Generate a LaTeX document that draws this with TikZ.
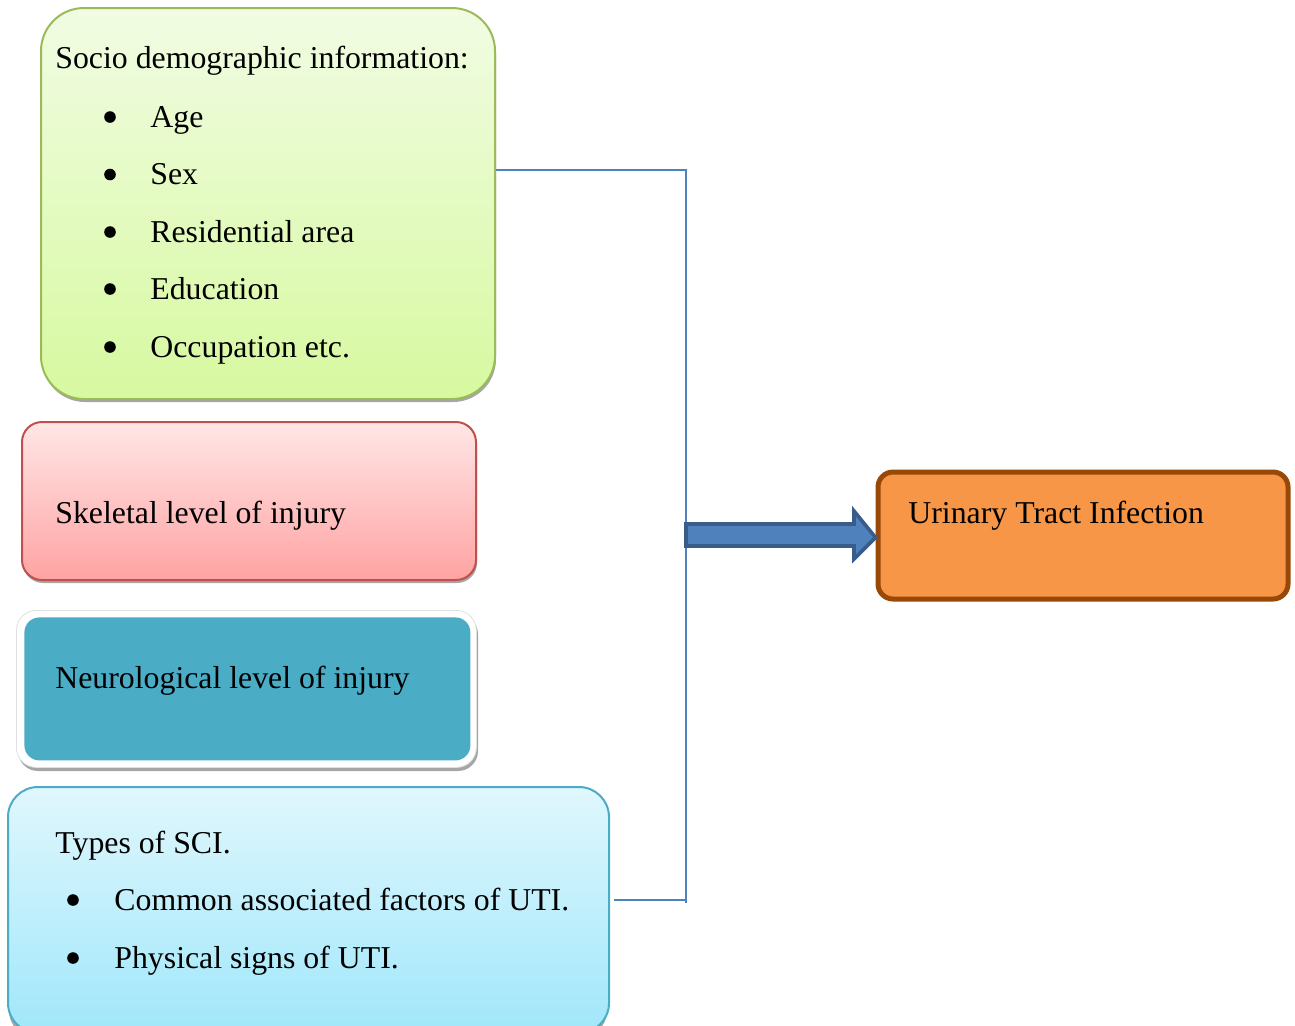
\documentclass[tikz,border=0pt]{standalone}
\usepackage{fontspec}
\setmainfont{Liberation Serif}
\usetikzlibrary{calc}
\definecolor{gborder}{HTML}{9BBB59}
\definecolor{gtop}{HTML}{F1FCE3}
\definecolor{gbot}{HTML}{D7F9A0}
\definecolor{rborder}{HTML}{C0504D}
\definecolor{rtop}{HTML}{FFE6E6}
\definecolor{rbot}{HTML}{FFA3A3}
\definecolor{tealc}{HTML}{4BACC6}
\definecolor{btop}{HTML}{E0F7FD}
\definecolor{bbot}{HTML}{A0E7FA}
\definecolor{bborder}{HTML}{4BACC6}
\definecolor{ofill}{HTML}{F79646}
\definecolor{oborder}{HTML}{984807}
\definecolor{connc}{HTML}{4F81BD}
\definecolor{arrb}{HTML}{385D8A}
\definecolor{shadowc}{HTML}{A6A6A6}
\begin{document}
\begin{tikzpicture}[x=0.5pt,y=-0.5pt,
  box/.style={rectangle, inner sep=0pt, anchor=north west},
  lbl/.style={anchor=base west, inner sep=0pt, font=\fontsize{15.9}{19}\selectfont},
  bul/.style={circle, fill=black, inner sep=0pt, minimum size=5.8pt},
  connline/.style={draw=connc, line width=1pt},
  shadowbox/.style={fill=shadowc}]
\useasboundingbox (0,0) rectangle (1295,1025);

% shadows
\fill[shadowbox, rounded corners=21.5pt] (42,11) rectangle (496,402);
\fill[shadowbox, rounded corners=10pt] (23,425) rectangle (477,583);
\fill[shadowbox, rounded corners=10pt] (18,614) rectangle (478,771);
\fill[shadowbox, rounded corners=15pt] (9,790) rectangle (607,1040);

% boxes
\node[box, draw=gborder, line width=1pt, top color=gtop, bottom color=gbot,
  rounded corners=21.5pt, minimum width=227pt, minimum height=195.5pt] (socio) at (40,7) {};
\node[box, draw=rborder, line width=1pt, top color=rtop, bottom color=rbot,
  rounded corners=10pt, minimum width=227pt, minimum height=79pt] (skel) at (21,421) {};
\node[box, fill=white, draw=black!12, line width=0.4pt,
  rounded corners=10pt, minimum width=230pt, minimum height=78.5pt] (neuroback) at (16,610) {};
\node[box, fill=tealc, rounded corners=7.5pt, minimum width=223pt, minimum height=71.5pt] (neuro) at (24,617) {};
\node[box, draw=bborder, line width=1pt, top color=btop, bottom color=bbot,
  rounded corners=15pt, minimum width=300.5pt, minimum height=123pt] (types) at (7,786) {};
\node[box, draw=oborder, fill=ofill, line width=2.5pt,
  rounded corners=7.5pt, minimum width=205pt, minimum height=63.5pt] (uti) at (875.5,469.5) {};

% texts
\node[lbl] (t0) at (55,68) {Socio demographic information:};
\node[bul] (b1) at (110,117) {};
\node[lbl] (t1) at (150,127) {Age};
\node[bul] (b2) at (110,174.5) {};
\node[lbl] (t2) at (150,184.5) {Sex};
\node[bul] (b3) at (110,232) {};
\node[lbl] (t3) at (150,242) {Residential area};
\node[bul] (b4) at (110,289) {};
\node[lbl] (t4) at (150,299) {Education};
\node[bul] (b5) at (110,347) {};
\node[lbl] (t5) at (150,357) {Occupation etc.};

\node[lbl] (tskel) at (55,523) {Skeletal level of injury};
\node[lbl] (tneuro) at (55,688) {Neurological level of injury};

\node[lbl] (ttypes) at (55,853) {Types of SCI.};
\node[bul] (b6) at (73,900) {};
\node[lbl] (t6) at (114,910) {Common associated factors of UTI.};
\node[bul] (b7) at (73,958) {};
\node[lbl] (t7) at (114,968) {Physical signs of UTI.};

\node[lbl] (tuti) at (908,523) {Urinary Tract Infection};

% connectors
\coordinate (j1) at (686,170);
\coordinate (j2) at (686,903);
\coordinate (j3) at (686,900);
\draw[connline] (socio.east |- j1) -- (j1) -- (j2);
\draw[connline] ($(types.east |- j3)+(4,0)$) -- (j3);

% block arrow
\coordinate (astart) at (686,535);
\draw[fill=connc, draw=arrb, line width=1.8pt, line join=miter]
  ($(astart)+(0,-11)$) -- (854,524) -- (854,511) -- ($(uti.west)+(0,2)$)
  -- (854,559) -- (854,546) -- ($(astart)+(0,11)$) -- cycle;
\end{tikzpicture}
\end{document}
